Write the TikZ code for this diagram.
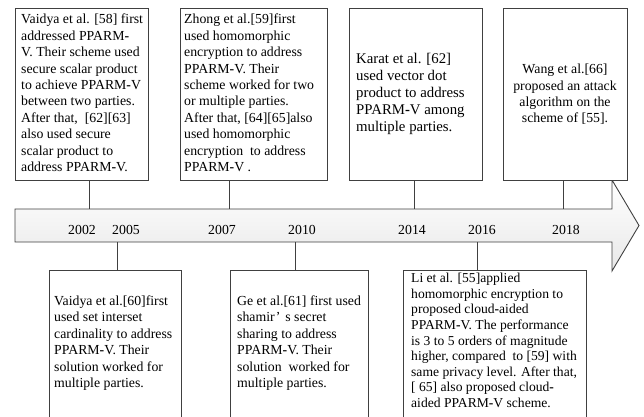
\documentclass[tikz,border=0pt]{standalone}
\usepackage{fontspec}
\setmainfont{Liberation Serif}
\newcommand\hy{\textbf{-}}
\begin{document}
\begin{tikzpicture}[x=1pt,y=-1pt,
  frame/.style={draw=black!75, line width=0.9pt, fill=white, anchor=north west,
    inner xsep=0pt, inner ysep=0pt, outer sep=0pt},
  txt/.style={inner sep=0pt, align=left, anchor=north west,
    font=\fontsize{13.8}{16.4}\selectfont},
  year/.style={inner sep=0pt, font=\fontsize{13.8}{16}\selectfont},
  link/.style={draw=black!75, line width=0.9pt}]
\useasboundingbox (0,0) rectangle (644,416);
\clip (0,0) rectangle (644,416);

% timeline arrow
\shade[top color=white, bottom color=black!9, draw=black!75, line width=0.9pt]
  (15,209) -- (612,209) -- (612,180) -- (639,225.5) -- (612,271) -- (612,242)
  -- (15,242) -- cycle;

% attachment points on the arrow
\coordinate (a2002) at (89,209);
\coordinate (a2007) at (229,209);
\coordinate (a2014) at (414,209);
\coordinate (a2018) at (563,209);
\coordinate (b2005) at (117,242);
\coordinate (b2010) at (295,242);
\coordinate (b2016) at (477,242);

% years
\node[year] (y2002) at (82,230) {2002};
\node[year] (y2005) at (126,230) {2005};
\node[year] (y2007) at (222,230) {2007};
\node[year] (y2010) at (302,230) {2010};
\node[year] (y2014) at (412,230) {2014};
\node[year] (y2016) at (482,230) {2016};
\node[year] (y2018) at (566,230) {2018};

% upper boxes
\node[frame, minimum width=133, minimum height=172] (t1) at (15,8) {};
\node[frame, minimum width=147, minimum height=172] (t2) at (180,8) {};
\node[frame, minimum width=133, minimum height=172] (t3) at (349,8) {};
\node[frame, minimum width=124, minimum height=172] (t4) at (503,8) {};

% lower boxes (open at the bottom edge)
\node[frame, minimum width=132, minimum height=160] (u1) at (49,270) {};
\node[frame, minimum width=138, minimum height=160] (u2) at (230,270) {};
\node[frame, minimum width=183, minimum height=160] (u3) at (403,270) {};

% connectors
\draw[link] (t1.south -| a2002) -- (a2002);
\draw[link] (t2.south -| a2007) -- (a2007);
\draw[link] (t3.south -| a2014) -- (a2014);
\draw[link] (t4.south -| a2018) -- (a2018);
\draw[link] (b2005) -- (u1.north -| b2005);
\draw[link] (b2010) -- (u2.north -| b2010);
\draw[link] (b2016) -- (u3.north -| b2016);

% texts
\node[txt] (x1) at (21,14) {Vaidya et al. [58] first\\addressed PPARM\hy\\V. Their scheme used\\secure scalar product\\to achieve PPARM\hy V\\between two parties.\\After that,~ [62][63]\\also used secure\\scalar product to\\address PPARM\hy V.};
\node[txt] (x2) at (184,14) {Zhong et al.[59]first\\used homomorphic\\encryption to address\\PPARM\hy V. Their\\scheme worked for two\\or multiple parties.\\After that, [64][65]also\\used homomorphic\\encryption~ to address\\PPARM\hy V .};
\node[txt, font=\fontsize{14.8}{17.2}\selectfont, anchor=west] (x3) at (356,94) {Karat et al. [62]\\used vector dot\\product to address\\PPARM\hy V among\\multiple parties.};
\node[txt, align=center, anchor=center] (x4) at (565,94.5) {Wang et al.[66]\\proposed an attack\\algorithm on the\\scheme of [55].};
\node[txt, anchor=west] (x5) at (54,343) {Vaidya et al.[60]first\\used set interset\\cardinality to address\\PPARM\hy V. Their\\solution worked for\\multiple parties.};
\node[txt, anchor=west] (x6) at (237,343) {Ge et al.[61] first used\\shamir\kern1pt’\kern5pt s secret\\sharing to address\\PPARM\hy V. Their\\solution~ worked for\\multiple parties.};
\node[txt, font=\fontsize{13.6}{15.6}\selectfont] (x7) at (411,273) {Li et al. [55]applied\\homomorphic encryption to\\proposed cloud\hy aided\\PPARM\hy V. The performance\\is 3 to 5 orders of magnitude\\higher, compared~ to [59] with\\same privacy level. After that,\\{[} 65] also proposed cloud\hy\\aided PPARM\hy V scheme.};
\end{tikzpicture}
\end{document}
